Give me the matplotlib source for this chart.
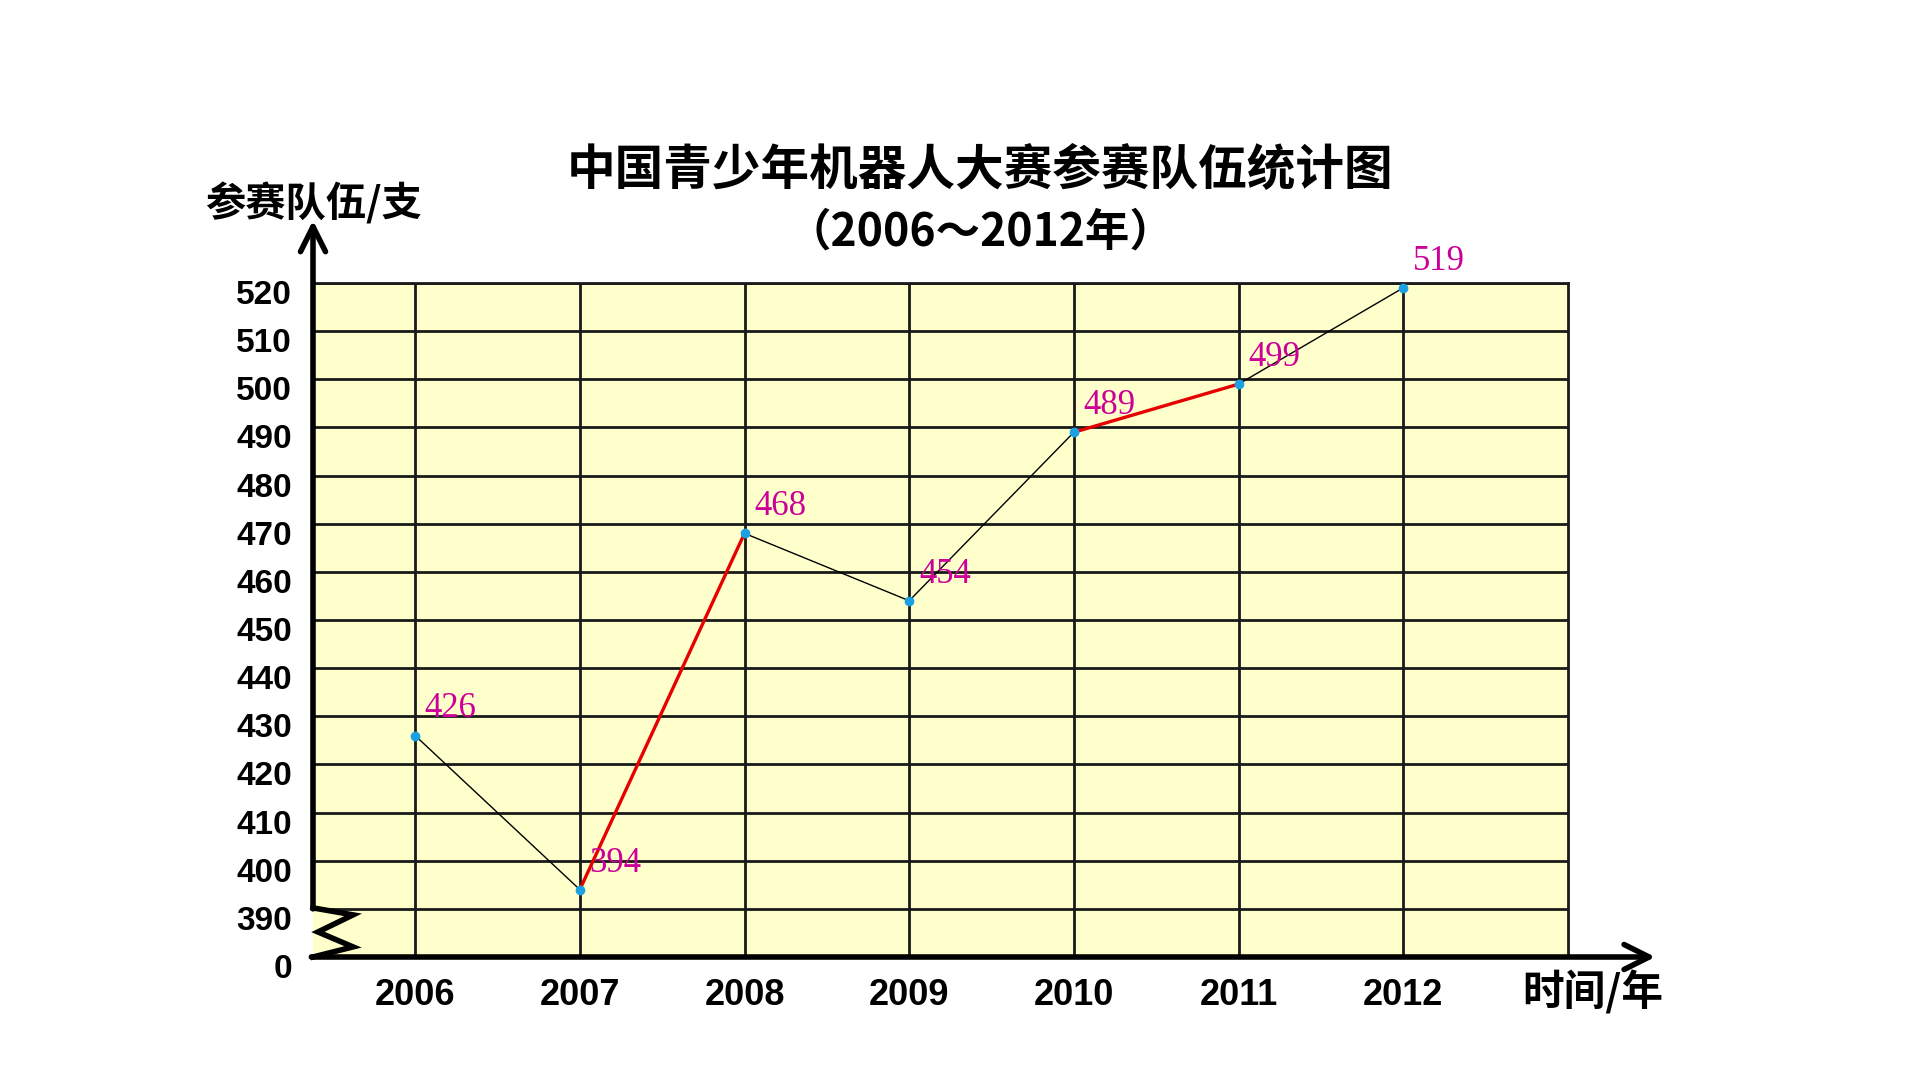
import numpy as np
import matplotlib.pyplot as plt
import matplotlib.transforms as mtransforms

plt.rcParams['font.family'] = ['Noto Sans CJK SC', 'DejaVu Sans']

# data
years = ['2006', '2007', '2008', '2009', '2010', '2011', '2012']
teams = [426, 394, 468, 454, 489, 499, 519]
red_segments = [(1, 2), (4, 5)]
y_ticks = [380, 390, 400, 410, 420, 430, 440, 450, 460, 470, 480, 490, 500, 510, 520]
y_labels = ['0', '390', '400', '410', '420', '430', '440', '450', '460', '470',
            '480', '490', '500', '510', '520']

title = '中国青少年机器人大赛参赛队伍统计图'
subtitle = '（2006～2012年）'
ylabel = '参赛队伍/支'
xlabel = '时间/年'

W, H = 1920, 1080
fig = plt.figure(figsize=(19.2, 10.8), dpi=100)
ax = fig.add_axes([313 / W, 1 - 957 / H, (1568 - 313) / W, (957 - 283) / H])
ax.set_facecolor('#FFFFCC')

x = np.arange(len(years))
x0 = -0.62
ax.set_xlim(x0, 7.0)
ax.set_ylim(380, 520)

# grid
grid_c = '#1a1a1a'
ax.set_xticks(x)
ax.set_yticks(y_ticks)
ax.grid(True, color=grid_c, lw=2)
ax.set_axisbelow(True)
for s in ['left', 'bottom']:
    ax.spines[s].set_visible(False)
for s in ['top', 'right']:
    ax.spines[s].set_color(grid_c)
    ax.spines[s].set_linewidth(2)

# ticks
ax.tick_params(axis='both', length=0)
ax.tick_params(axis='y', pad=15)
ax.tick_params(axis='x', pad=15)
ax.set_yticklabels(y_labels, fontfamily='Liberation Sans', fontweight='bold', fontsize=24)
ax.set_xticklabels(years, fontfamily='Liberation Sans', fontweight='bold', fontsize=26)
offset = mtransforms.ScaledTranslation(0, -9 / 100, fig.dpi_scale_trans)
for lab in ax.get_yticklabels():
    lab.set_transform(lab.get_transform() + offset)

# axes with arrows
arrow = dict(arrowstyle='->,head_length=0.9,head_width=0.45', lw=4, color='black',
             mutation_scale=20, shrinkA=0, shrinkB=0)
ax.annotate('', xy=(x0, 533), xytext=(x0, 390), arrowprops=arrow, annotation_clip=False)
ax.annotate('', xy=(7.53, 380), xytext=(x0 - 0.01, 380), arrowprops=arrow, annotation_clip=False)
# axis break zigzag
ax.plot([x0, -0.377, -0.59, -0.377, x0], [390.2, 388.75, 385.2, 382.1, 380],
        color='black', lw=4, clip_on=False, solid_joinstyle='miter', zorder=4)

# line
ax.plot(x, teams, color='black', lw=1, zorder=3)
for a, b in red_segments:
    ax.plot([a, b], [teams[a], teams[b]], color='#E60000', lw=2.4, zorder=4)
ax.plot(x, teams, 'o', color='#1BA1E2', ms=6, zorder=5)

for i, v in enumerate(teams):
    ax.annotate(str(v), (i, v), xytext=(7, 13), textcoords='offset points',
                color='#CC0099', fontsize=25, fontfamily='Liberation Serif',
                ha='left', va='baseline', zorder=6)

# titles
fig.text(980 / W, 1 - 171 / H, title, ha='center', va='center', fontsize=35, fontweight='bold')
fig.text(980 / W, 1 - 233 / H, subtitle, ha='center', va='center', fontsize=32, fontweight='bold')
fig.text(314 / W, 1 - 204 / H, ylabel, ha='center', va='center', fontsize=29, fontweight='bold')
fig.text(1593 / W, 1 - 992 / H, xlabel, ha='center', va='center', fontsize=30, fontweight='bold')

fig.savefig('out.png', dpi=100)
